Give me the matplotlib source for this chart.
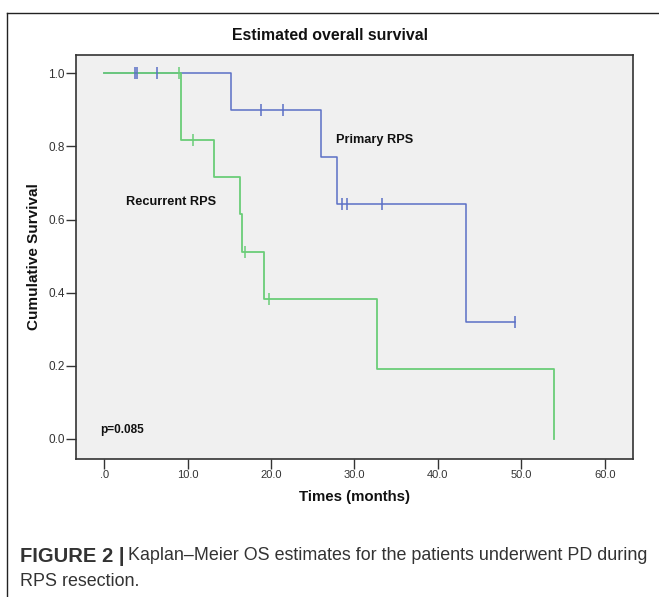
import matplotlib
matplotlib.use("Agg")
import matplotlib.pyplot as plt
import numpy as np
from matplotlib.lines import Line2D

# ---- data ----
primary_times = [0.0, 15.2, 26.0, 27.9, 43.4, 49.2]
primary_surv = [1.0, 0.900, 0.771, 0.643, 0.321, 0.321]
primary_censor = [3.7, 3.9, 6.3, 18.8, 21.4, 28.5, 29.1, 33.3, 49.2]

recurrent_times = [0.0, 9.2, 13.2, 16.3, 16.5, 19.2, 32.7, 53.9]
recurrent_surv = [1.0, 0.818, 0.716, 0.614, 0.511, 0.384, 0.192, 0.0]
recurrent_censor = [9.0, 10.6, 16.9, 19.7]

xticks = [0, 10, 20, 30, 40, 50, 60]
xtick_labels = [".0", "10.0", "20.0", "30.0", "40.0", "50.0", "60.0"]
yticks = [0.0, 0.2, 0.4, 0.6, 0.8, 1.0]
ytick_labels = ["0.0", "0.2", "0.4", "0.6", "0.8", "1.0"]

BLUE = "#5b6fc6"
GREEN = "#6acd78"

plt.rcParams["font.family"] = ["Liberation Sans", "DejaVu Sans"]

fig = plt.figure(figsize=(6.59, 5.97), dpi=100)
ax = fig.add_axes([76 / 659, 1 - 459 / 597, 557 / 659, 404 / 597])
ax.set_facecolor("#f0f0f0")


def surv_at(times, surv, t):
    idx = np.searchsorted(times, t, side="right") - 1
    return np.asarray(surv)[idx]


ax.step(primary_times, primary_surv, where="post", color=BLUE, lw=1.1, zorder=2)
ax.step(recurrent_times, recurrent_surv, where="post", color=GREEN, lw=1.3, zorder=3)
ax.plot(primary_censor, surv_at(primary_times, primary_surv, primary_censor),
        ls="none", marker="|", ms=8, mew=1.1, color=BLUE, zorder=4)
ax.plot(recurrent_censor, surv_at(recurrent_times, recurrent_surv, recurrent_censor),
        ls="none", marker="|", ms=8, mew=1.1, color=GREEN, zorder=4)

ax.set_xlim(-3.39, 63.4)
ax.set_ylim(-0.0547, 1.050)
ax.set_xticks(xticks)
ax.set_xticklabels(xtick_labels)
ax.set_yticks(yticks)
ax.set_yticklabels(ytick_labels)
ax.tick_params(axis="both", direction="out", length=7, width=1.0, color="#333333",
               labelcolor="#333333")
ax.tick_params(axis="x", labelsize=8, pad=1)
ax.tick_params(axis="y", labelsize=8.5, pad=1)
for s in ax.spines.values():
    s.set_color("#333333")
    s.set_linewidth(1.2)

ax.set_xlabel("Times (months)", fontsize=10.8, fontweight="bold", color="#111111", labelpad=7)
ax.set_ylabel("Cumulative Survival", fontsize=11, fontweight="bold", color="#111111", labelpad=5)
fig.text(0.5, 1 - 35 / 597, "Estimated overall survival", fontsize=11.4, fontweight="bold",
         color="#111111", ha="center", va="center")

ax.text(27.8, 0.818, "Primary RPS", fontsize=9.2, fontweight="bold", color="#111111", va="center")
ax.text(2.6, 0.648, "Recurrent RPS", fontsize=9.2, fontweight="bold", color="#111111", va="center")
ax.text(-0.5, 0.024, "p=0.085", fontsize=8.5, fontweight="bold", color="#111111", va="center")

# outer frame (open on right/bottom, as cropped)
fig.add_artist(Line2D([7 / 659, 7 / 659], [0, 1 - 13 / 597], transform=fig.transFigure,
                      color="#222222", lw=1.0))
fig.add_artist(Line2D([7 / 659, 1], [1 - 13 / 597, 1 - 13 / 597], transform=fig.transFigure,
                      color="#222222", lw=1.0))

# caption
cap_font = ["Liberation Sans", "DejaVu Sans"]
t1 = fig.text(20 / 659, 1 - 556 / 597, "FIGURE 2 |", fontsize=14.5, fontweight="bold",
              color="#333333", va="center", family=cap_font)
fig.canvas.draw()
bb = t1.get_window_extent()
fig.text((bb.x1 + 4) / 659, 1 - 556 / 597,
         "Kaplan\u2013Meier OS estimates for the patients underwent PD during",
         fontsize=12.9, color="#333333", va="center", family=cap_font)
fig.text(20 / 659, 1 - 581 / 597, "RPS resection.", fontsize=12.9, color="#333333",
         va="center", family=cap_font)

fig.savefig("out.png", dpi=100)
